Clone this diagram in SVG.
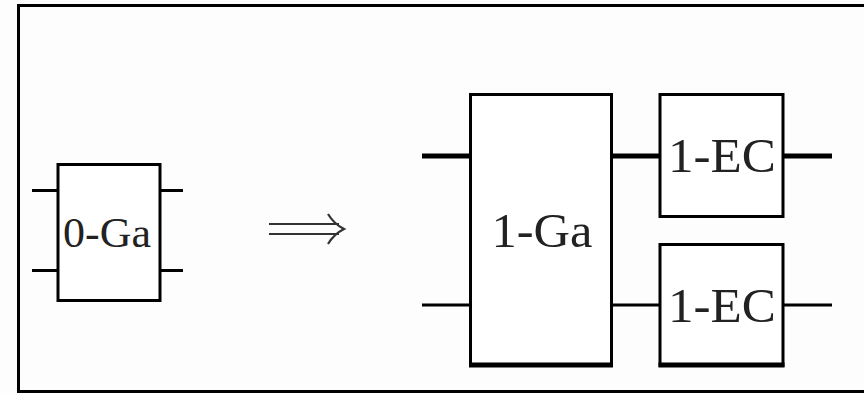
<svg xmlns="http://www.w3.org/2000/svg" width="864" height="393" viewBox="0 0 864 393">
<style>
.box{fill:#fff;stroke:#000;stroke-width:3}
.w{stroke:#000;stroke-width:3;fill:none}
.t{stroke:#000;stroke-width:5;fill:none}
.lbl{fill:#222;text-anchor:middle}
</style>
<rect x="0" y="0" width="864" height="393" fill="#fdfdfd"/>
<rect x="18.5" y="5.5" width="860" height="386" fill="none" stroke="#000" stroke-width="3"/>
<g id="connectors">
<line class="w" x1="32" y1="190.5" x2="58" y2="190.5"/>
<line class="w" x1="32" y1="270.5" x2="58" y2="270.5"/>
<line class="w" x1="160" y1="190.5" x2="183" y2="190.5"/>
<line class="w" x1="160" y1="270.5" x2="183" y2="270.5"/>
<line class="t" x1="422" y1="156" x2="472" y2="156"/>
<line class="w" x1="422" y1="305" x2="472" y2="305"/>
<line class="t" x1="611" y1="156" x2="660" y2="156"/>
<line class="w" x1="611" y1="305" x2="660" y2="305"/>
<line class="t" x1="782" y1="156" x2="832" y2="156"/>
<line class="w" x1="782" y1="305" x2="832" y2="305"/>
</g>
<g id="arrow" stroke="#333" fill="none" stroke-width="2.2">
<line x1="269" y1="224" x2="339" y2="224"/>
<line x1="269" y1="234" x2="339" y2="234"/>
<path d="M328 214 Q334 224 344 229 Q334 234 328 244"/>
</g>
<g id="n0ga">
<rect class="box" x="58" y="164.5" width="102" height="136"/>
<text class="lbl" x="107" y="247" font-family="'Liberation Serif', 'DejaVu Serif', serif" font-size="42" textLength="88" lengthAdjust="spacingAndGlyphs">0-Ga</text>
</g>
<g id="n1ga">
<rect class="box" x="470.5" y="94.5" width="141" height="271"/>
<line class="t" x1="469" y1="365" x2="613" y2="365"/>
<text class="lbl" x="542" y="247" font-family="'Liberation Serif', 'DejaVu Serif', serif" font-size="49" textLength="101" lengthAdjust="spacingAndGlyphs">1-Ga</text>
</g>
<g id="n1ec1">
<rect class="box" x="660" y="94.5" width="123" height="122"/>
<text class="lbl" x="722" y="172" font-family="'Liberation Serif', 'DejaVu Serif', serif" font-size="48" textLength="108" lengthAdjust="spacingAndGlyphs">1-EC</text>
</g>
<g id="n1ec2">
<rect class="box" x="660" y="244.5" width="123" height="121"/>
<line class="t" x1="658.5" y1="365" x2="784.5" y2="365"/>
<text class="lbl" x="722" y="322" font-family="'Liberation Serif', 'DejaVu Serif', serif" font-size="48" textLength="108" lengthAdjust="spacingAndGlyphs">1-EC</text>
</g>
</svg>
